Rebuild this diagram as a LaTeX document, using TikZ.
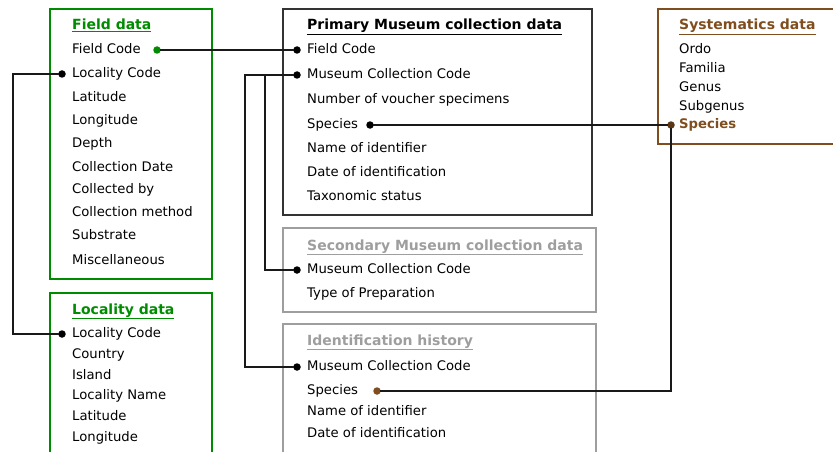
\documentclass[tikz,border=0pt]{standalone}
\usepackage{fontspec}
\setmainfont{DejaVu Sans}
\usetikzlibrary{calc}
\colorlet{colorFD}{green!55!black}
\definecolor{colorSY}{RGB}{128,78,30}
\colorlet{colorSEC}{black!38}
\colorlet{colorLNK}{black!90}
\tikzset{
   row/.style={anchor=west,inner sep=0pt,text height=9.5pt,text depth=2.5pt,
     font=\fontsize{13.2}{14}\selectfont},
   ttl/.style={anchor=west,inner sep=0pt,text height=10pt,text depth=4pt,
     font=\fontsize{14}{15}\bfseries},
   fdbox/.style={draw=colorFD,line width=2pt},
   pmbox/.style={draw=black!80,line width=2pt},
   secbox/.style={draw=colorSEC,line width=2pt},
   sybox/.style={draw=colorSY,line width=2pt},
   dot/.style={circle,fill=black,inner sep=0pt,minimum size=7.5pt},
   link/.style={-,color=colorLNK,line width=1.3pt,line cap=rect},
}
\begin{document}
\begin{tikzpicture}[x=1pt,y=-1pt]
  \useasboundingbox (0,0) rectangle (833,452);
  \clip (0,0) rectangle (833,452);

  %% boxes
  \draw[fdbox]  (50,9)   rectangle (212,279);
  \draw[fdbox]  (50,293) rectangle (212,470);
  \draw[pmbox]  (283,9)  rectangle (592,215);
  \draw[secbox] (283,228) rectangle (596,312);
  \draw[secbox] (283,324) rectangle (596,470);
  \draw[sybox]  (658,9)  rectangle (850,144);

  %% field data
  \node[ttl,colorFD] (fdt) at (72,27)  {\underline{Field data}};
  \node[row] (fd1)  at (72,50)  {Field Code};
  \node[row] (fd2)  at (72,74)  {Locality Code};
  \node[row] (fd3)  at (72,98)  {Latitude};
  \node[row] (fd4)  at (72,121) {Longitude};
  \node[row] (fd5)  at (72,144) {Depth};
  \node[row] (fd6)  at (72,168) {Collection Date};
  \node[row] (fd7)  at (72,190) {Collected by};
  \node[row] (fd8)  at (72,213) {Collection method};
  \node[row] (fd9)  at (72,236) {Substrate};
  \node[row] (fd10) at (72,261) {Miscellaneous};

  %% locality data
  \node[ttl,colorFD] (ldt) at (72,311) {\underline{Locality data}};
  \node[row] (ld1) at (72,334) {Locality Code};
  \node[row] (ld2) at (72,355) {Country};
  \node[row] (ld3) at (72,376) {Island};
  \node[row] (ld4) at (72,396) {Locality Name};
  \node[row] (ld5) at (72,417) {Latitude};
  \node[row] (ld6) at (72,438) {Longitude};

  %% primary museum collection data
  \node[ttl] (pmt) at (307,27)  {\underline{Primary Museum collection data}};
  \node[row] (pm1) at (307,50)  {Field Code};
  \node[row] (pm2) at (307,75)  {Museum Collection Code};
  \node[row] (pm3) at (307,100) {Number of voucher specimens};
  \node[row] (pm4) at (307,125) {Species};
  \node[row] (pm5) at (307,149) {Name of identifier};
  \node[row] (pm6) at (307,173) {Date of identification};
  \node[row] (pm7) at (307,197) {Taxonomic status};

  %% secondary museum collection data
  \node[ttl,colorSEC] (smt) at (307,247) {\underline{Secondary Museum collection data}};
  \node[row] (sm1) at (307,270) {Museum Collection Code};
  \node[row] (sm2) at (307,294) {Type of Preparation};

  %% identification history
  \node[ttl,colorSEC] (iht) at (307,342) {\underline{Identification history}};
  \node[row] (ih1) at (307,367) {Museum Collection Code};
  \node[row] (ih2) at (307,391) {Species};
  \node[row] (ih3) at (307,412) {Name of identifier};
  \node[row] (ih4) at (307,434) {Date of identification};

  %% systematics data
  \node[ttl,colorSY] (syt) at (679,27) {\underline{Systematics data}};
  \node[row] (sy1) at (679,50)  {Ordo};
  \node[row] (sy2) at (679,69)  {Familia};
  \node[row] (sy3) at (679,88)  {Genus};
  \node[row] (sy4) at (679,107) {Subgenus};
  \node[row,colorSY,font=\fontsize{13.2}{14}\bfseries] (sy5) at (679,125) {Species};

  %% key dots
  \node[dot,fill=colorFD] (fdFC) at (157,50)  {};
  \node[dot] (fdLC) at (62,74)   {};
  \node[dot] (ldLC) at (62,334)  {};
  \node[dot] (pmFC) at (297,50)  {};
  \node[dot] (pmMC) at (297,75)  {};
  \node[dot] (pmSP) at (370,125) {};
  \node[dot] (smMC) at (297,270) {};
  \node[dot] (ihMC) at (297,367) {};
  \node[dot,fill=colorSY] (ihSP) at (377,391) {};
  \node[dot,fill=colorSY!70!black] (sySP) at (671,125) {};

  \coordinate (bendL) at (13,74);
  \coordinate (bendI) at (245,75);
  \coordinate (bendS) at (265,75);

  %% links
  \draw[link] (fdFC) -- (pmFC);
  \draw[link] (fdLC) -- (bendL) |- (ldLC);
  \draw[link] (pmMC) -- (bendI) |- (ihMC);
  \draw[link] (bendS) |- (smMC);
  \draw[link] (pmSP) -- (sySP);
  \draw[link] (sySP) |- (ihSP);
\end{tikzpicture}
\end{document}
